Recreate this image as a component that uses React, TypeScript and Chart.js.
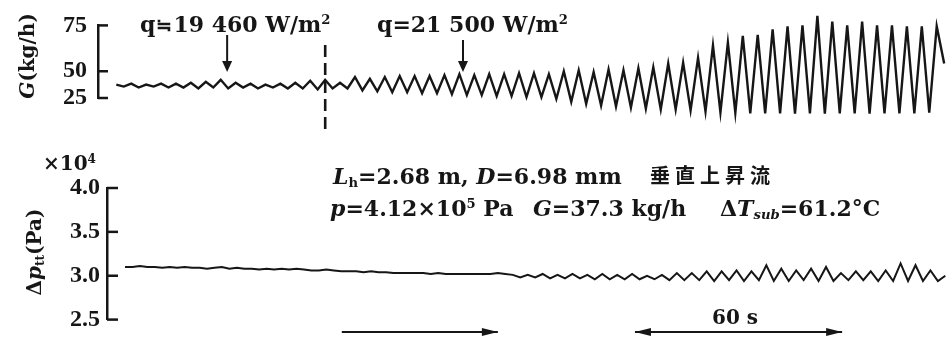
import React, { useEffect, useRef } from 'react';
import { Chart, LinearScale, registerables } from 'chart.js';

Chart.register(...registerables);

// ---------- data ----------
// time between successive samples (peak / trough of the oscillation), seconds
const SAMPLE_DT = 2.16;

// mass flow rate G (kg/h), alternating peak / trough
const G_FLOW = [
  37.5, 35.7, 38.4, 34.8, 37.5, 35.7, 38.4, 34.8, 38.4, 34.8,
  39.3, 33.9, 40.2, 34.8, 42.0, 33.9, 39.3, 34.8, 38.4, 33.9,
  37.5, 34.8, 38.4, 33.9, 39.3, 33.9, 41.1, 33.0, 42.0, 33.9,
  39.3, 33.9, 44.6, 32.1, 42.9, 31.3, 44.6, 30.4, 45.5, 30.4,
  45.5, 29.5, 45.5, 29.5, 46.4, 28.6, 47.3, 27.7, 46.4, 27.7,
  47.3, 26.8, 47.3, 26.8, 48.2, 25.9, 48.2, 25.9, 47.3, 24.1,
  50.0, 21.4, 50.5, 19.6, 49.1, 17.9, 51.0, 17.0, 50.5, 16.1,
  51.6, 15.2, 52.1, 14.3, 54.2, 14.3, 54.7, 13.4, 57.3, 12.5,
  64.1, 11.6, 65.6, 11.2, 69.3, 10.7, 69.8, 10.7, 72.9, 10.7,
  74.5, 10.3, 75.0, 10.7, 80.2, 10.3, 77.1, 10.7, 75.0, 10.7,
  77.1, 10.3, 75.0, 10.7, 75.0, 10.7, 74.5, 10.7, 74.5, 11.2,
  74.5, 54.2,
];

// pressure drop Δp (×10⁴ Pa)
const DP_TT = [
  3.10, 3.10, 3.11, 3.10, 3.10, 3.09, 3.10, 3.09, 3.10, 3.09,
  3.09, 3.08, 3.09, 3.10, 3.08, 3.09, 3.08, 3.08, 3.07, 3.08,
  3.07, 3.08, 3.07, 3.08, 3.07, 3.06, 3.06, 3.07, 3.06, 3.05,
  3.05, 3.05, 3.04, 3.05, 3.04, 3.04, 3.03, 3.03, 3.03, 3.03,
  3.03, 3.02, 3.03, 3.02, 3.02, 3.02, 3.02, 3.02, 3.02, 3.02,
  3.03, 3.02,
  3.01, 2.98, 3.01, 2.98, 3.02, 2.97, 3.01, 2.97, 3.02, 2.97,
  3.01, 2.96, 3.02, 2.96, 3.01, 2.96, 3.02, 2.96,
  3.00, 2.96, 3.01, 2.95, 3.03, 2.95, 3.03, 2.95, 3.05, 2.94,
  3.05, 2.95, 3.06, 2.94, 3.05, 2.95, 3.12, 2.94, 3.08, 2.94,
  3.06, 2.95, 3.08, 2.94, 3.10, 2.94, 3.03, 2.95, 3.05, 2.95,
  3.05, 2.94, 3.06, 2.94, 3.14, 2.94, 3.12, 2.94, 3.06, 2.94,
  3.00,
];

const G_TICKS = [25, 50, 75];
const DP_TICKS = [2.5, 3.0, 3.5, 4.0];

// annotation times (s)
const Q1_TIME = 32.1;
const HEAT_STEP_TIME = 60.5;
const Q2_TIME = 100.4;
const SPAN_ARROW = [62.8, 108.0];
const SCALE_ARROW = [147.7, 207.7]; // 60 s

// ---------- styling ----------
const INK = '#161616';
const SERIF = '"DejaVu Serif", "Liberation Serif", serif';
const TICK_FONT = { family: '"Liberation Serif", serif', size: 24, weight: 'bold' as const };

// printed G axis is not evenly divided: 25→50 takes 28 of the 76 px
const G_AXIS_BREAKS: [number, number][] = [[25, 0], [50, 28 / 76], [75, 1]];

class BrokenLinearScale extends LinearScale {
  static id = 'brokenLinear';
  static defaults = LinearScale.defaults;
  getPixelForValue(value: any) {
    if (value === null || value === undefined || isNaN(value)) return NaN;
    const b = G_AXIS_BREAKS;
    const seg = value <= b[1][0] ? 0 : 1;
    const [v0, f0] = b[seg];
    const [v1, f1] = b[seg + 1];
    return (this as any).getPixelForDecimal(f0 + ((value - v0) / (v1 - v0)) * (f1 - f0));
  }
  getValueForPixel(pixel: number) {
    const d = (this as any).getDecimalForPixel(pixel);
    const b = G_AXIS_BREAKS;
    const seg = d <= b[1][1] ? 0 : 1;
    const [v0, f0] = b[seg];
    const [v1, f1] = b[seg + 1];
    return v0 + ((d - f0) / (f1 - f0)) * (v1 - v0);
  }
}
Chart.register(BrokenLinearScale as any);

const inwardTicks = {
  id: 'inwardTicks',
  afterDraw(chart: any, _a: any, opts: any) {
    const y = chart.scales.y;
    const ctx = chart.ctx;
    ctx.save();
    ctx.strokeStyle = INK;
    ctx.lineWidth = 2.5;
    y.ticks.forEach((t: any) => {
      const py = y.getPixelForValue(t.value);
      ctx.beginPath();
      ctx.moveTo(y.right, py);
      ctx.lineTo(y.right + opts.length, py);
      ctx.stroke();
    });
    ctx.restore();
  },
};

function downArrow(ctx: CanvasRenderingContext2D, x: number, y0: number, y1: number) {
  ctx.beginPath();
  ctx.moveTo(x, y0);
  ctx.lineTo(x, y1 - 8);
  ctx.stroke();
  ctx.beginPath();
  ctx.moveTo(x - 5, y1 - 11);
  ctx.lineTo(x + 5, y1 - 11);
  ctx.lineTo(x, y1);
  ctx.closePath();
  ctx.fill();
}

function hArrow(ctx: CanvasRenderingContext2D, xa: number, xb: number, y: number, both: boolean) {
  ctx.beginPath();
  ctx.moveTo(xa, y);
  ctx.lineTo(xb, y);
  ctx.stroke();
  const head = (tip: number, dir: number) => {
    ctx.beginPath();
    ctx.moveTo(tip, y);
    ctx.lineTo(tip - dir * 16, y - 4);
    ctx.lineTo(tip - dir * 16, y + 4);
    ctx.closePath();
    ctx.fill();
  };
  head(xb, 1);
  if (both) head(xa, -1);
}

const topMarks = {
  id: 'topMarks',
  afterDraw(chart: any) {
    const { ctx } = chart;
    const x = chart.scales.x;
    ctx.save();
    ctx.strokeStyle = INK;
    ctx.fillStyle = INK;
    ctx.lineWidth = 2.6;
    ctx.setLineDash([12, 6]);
    const dx = x.getPixelForValue(HEAT_STEP_TIME);
    ctx.beginPath();
    ctx.moveTo(dx, 45);
    ctx.lineTo(dx, 132);
    ctx.stroke();
    ctx.setLineDash([]);
    ctx.lineWidth = 2;
    downArrow(ctx, x.getPixelForValue(Q1_TIME), 35, 72);
    downArrow(ctx, x.getPixelForValue(Q2_TIME), 40, 72);
    ctx.restore();
  },
};

const bottomMarks = {
  id: 'bottomMarks',
  afterDraw(chart: any) {
    const { ctx } = chart;
    const x = chart.scales.x;
    ctx.save();
    ctx.strokeStyle = INK;
    ctx.fillStyle = INK;
    ctx.lineWidth = 2;
    hArrow(ctx, x.getPixelForValue(SPAN_ARROW[0]), x.getPixelForValue(SPAN_ARROW[1]), 192, false);
    hArrow(ctx, x.getPixelForValue(SCALE_ARROW[0]), x.getPixelForValue(SCALE_ARROW[1]), 192, true);
    ctx.restore();
  },
};

const toPoints = (arr: number[]) => arr.map((v, i) => ({ x: i * SAMPLE_DT, y: v }));

function makeTop(canvas: HTMLCanvasElement) {
  return new Chart(canvas, {
    type: 'line',
    data: {
      datasets: [{
        data: toPoints(G_FLOW),
        borderColor: INK,
        borderWidth: 2.4,
        pointRadius: 0,
        tension: 0,
        clip: false as any,
      }],
    },
    options: {
      animation: false,
      responsive: false,
      maintainAspectRatio: false,
      events: [],
      layout: { padding: { left: 0, right: 6, top: 22, bottom: 42 } },
      plugins: { legend: { display: false }, tooltip: { enabled: false }, inwardTicks: { length: 10 } } as any,
      scales: {
        x: { type: 'linear', display: false, min: -5.3, max: 240.0 },
        y: {
          type: 'brokenLinear' as any,
          min: 25,
          max: 75,
          afterBuildTicks: (axis: any) => { axis.ticks = G_TICKS.map((v) => ({ value: v })); },
          afterFit: (axis: any) => { axis.width = 98; },
          grid: { display: false, drawTicks: false },
          border: { display: true, width: 2.5, color: INK },
          ticks: { padding: 11, color: INK, font: TICK_FONT, callback: (v: any) => String(v) },
        } as any,
      },
    },
    plugins: [inwardTicks, topMarks],
  });
}

function makeBottom(canvas: HTMLCanvasElement) {
  return new Chart(canvas, {
    type: 'line',
    data: {
      datasets: [{
        data: toPoints(DP_TT),
        borderColor: INK,
        borderWidth: 2,
        pointRadius: 0,
        tension: 0,
        clip: false as any,
      }],
    },
    options: {
      animation: false,
      responsive: false,
      maintainAspectRatio: false,
      events: [],
      layout: { padding: { left: 0, right: 6, top: 48, bottom: 19 } },
      plugins: { legend: { display: false }, tooltip: { enabled: false }, inwardTicks: { length: 11 } } as any,
      scales: {
        x: { type: 'linear', display: false, min: -5.21, max: 237.5 },
        y: {
          type: 'linear',
          min: 2.5,
          max: 4.0,
          afterBuildTicks: (axis: any) => { axis.ticks = DP_TICKS.map((v) => ({ value: v })); },
          afterFit: (axis: any) => { axis.width = 107; },
          grid: { display: false, drawTicks: false },
          border: { display: true, width: 2.5, color: INK },
          ticks: { padding: 7, color: INK, font: TICK_FONT, callback: (v: any) => Number(v).toFixed(1) },
        } as any,
      },
    },
    plugins: [inwardTicks, bottomMarks],
  });
}

const Sup = ({ children }: { children: React.ReactNode }) => (
  <span style={{ fontSize: '0.6em', position: 'relative', top: '-0.6em' }}>{children}</span>
);
const Sub = ({ children }: { children: React.ReactNode }) => (
  <span style={{ fontSize: '0.6em', position: 'relative', top: '0.25em' }}>{children}</span>
);
const I = ({ children }: { children: React.ReactNode }) => <span style={{ fontStyle: 'italic' }}>{children}</span>;
const Approx = () => (
  <span style={{ fontFamily: '"Noto Sans CJK JP", sans-serif', fontWeight: 'bold', fontSize: '0.85em', margin: '0 1px' }}>≒</span>
);

const Txt = ({ left, top, size, children, family }: any) => (
  <div
    style={{
      position: 'absolute', left, top, fontFamily: family || SERIF, fontWeight: 'bold',
      fontSize: size, lineHeight: 1, whiteSpace: 'nowrap', color: INK,
    }}
  >
    {children}
  </div>
);

const VTitle = ({ cx, cy, size, children }: any) => (
  <div
    style={{
      position: 'absolute', left: cx - 70, top: cy - 13, width: 140, height: 26, lineHeight: '26px',
      textAlign: 'center', transform: 'rotate(-90deg)', fontFamily: SERIF, fontWeight: 'bold',
      fontSize: size, whiteSpace: 'nowrap', color: INK,
    }}
  >
    {children}
  </div>
);

export default function App() {
  const topRef = useRef<HTMLCanvasElement>(null);
  const botRef = useRef<HTMLCanvasElement>(null);

  useEffect(() => {
    const a = makeTop(topRef.current!);
    const b = makeBottom(botRef.current!);
    return () => { a.destroy(); b.destroy(); };
  }, []);

  return (
    <div style={{ position: 'absolute', left: 0, top: 0, width: 951, height: 341, background: '#fff', overflow: 'hidden' }}>
      <canvas ref={topRef} width={951} height={140} style={{ position: 'absolute', left: 0, top: 0, width: 951, height: 140 }} />
      <canvas ref={botRef} width={951} height={201} style={{ position: 'absolute', left: 0, top: 140, width: 951, height: 201 }} />

      <VTitle cx={27} cy={56} size={20}><I>G</I>(kg/h)</VTitle>
      <VTitle cx={34} cy={252} size={20}>Δ<I>p</I><Sub>tt</Sub>(Pa)</VTitle>

      <Txt left={140} top={13} size={22}>q<Approx />19 460 W/m<Sup>2</Sup></Txt>
      <Txt left={377} top={13} size={22}>q=21 500 W/m<Sup>2</Sup></Txt>

      <Txt left={43} top={153} size={20}>×10<Sup>4</Sup></Txt>

      <Txt left={333} top={165} size={22}><I>L</I><Sub>h</Sub>=2.68 m, <I>D</I>=6.98 mm</Txt>
      <Txt left={650} top={165} size={20} family={'"Noto Sans CJK JP", sans-serif'}>
        <span style={{ letterSpacing: 5 }}>垂直上昇流</span>
      </Txt>
      <Txt left={330} top={197} size={22}><I>p</I>=4.12×10<Sup>5</Sup> Pa</Txt>
      <Txt left={533} top={197} size={22}><I>G</I>=37.3 kg/h</Txt>
      <Txt left={720} top={197} size={22}>Δ<I>T</I><Sub><I>sub</I></Sub>=61.2°C</Txt>

      <Txt left={712} top={307} size={20}>60 s</Txt>
    </div>
  );
}
